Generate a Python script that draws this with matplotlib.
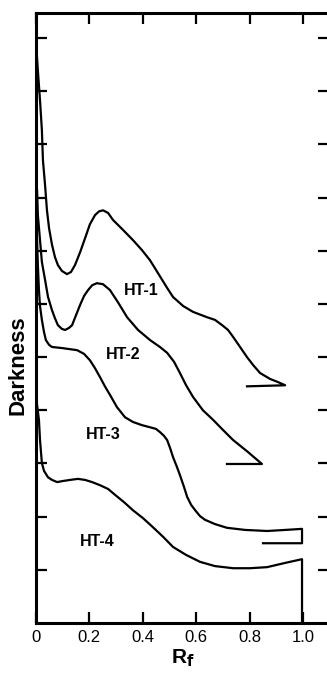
import matplotlib
matplotlib.use("Agg")
import matplotlib.pyplot as plt

plt.rcParams["font.family"] = ["Liberation Sans", "DejaVu Sans"]

# densitometer traces (Rf, darkness)
ht1_rf = [0.000, 0.007, 0.015, 0.022, 0.026, 0.034, 0.041, 0.049, 0.060, 0.071,
          0.082, 0.097, 0.116, 0.131, 0.146, 0.165, 0.184, 0.202, 0.221, 0.236,
          0.251, 0.270, 0.288, 0.326, 0.363, 0.397, 0.427, 0.464, 0.491, 0.513,
          0.551, 0.588, 0.640, 0.670, 0.697, 0.719, 0.738, 0.764, 0.790, 0.813,
          0.839, 0.876, 0.906, 0.933, 0.790]
ht1_dk = [10.92, 10.39, 9.83, 9.27, 8.70, 8.23, 7.76, 7.42, 7.11, 6.88,
          6.73, 6.62, 6.56, 6.60, 6.73, 6.97, 7.24, 7.50, 7.67, 7.74,
          7.76, 7.71, 7.58, 7.39, 7.20, 7.01, 6.82, 6.52, 6.30, 6.13,
          5.96, 5.85, 5.75, 5.70, 5.60, 5.51, 5.38, 5.19, 5.00, 4.85,
          4.70, 4.59, 4.53, 4.47, 4.45]

ht2_rf = [0.004, 0.007, 0.015, 0.022, 0.034, 0.045, 0.060, 0.071, 0.082, 0.097,
          0.109, 0.124, 0.135, 0.150, 0.165, 0.180, 0.195, 0.210, 0.228, 0.251,
          0.277, 0.307, 0.341, 0.382, 0.427, 0.464, 0.491, 0.517, 0.539, 0.562,
          0.588, 0.625, 0.663, 0.700, 0.738, 0.790, 0.846, 0.715]
ht2_dk = [8.14, 7.67, 7.20, 6.79, 6.45, 6.13, 5.88, 5.73, 5.60, 5.53,
          5.51, 5.55, 5.60, 5.79, 5.98, 6.15, 6.26, 6.35, 6.39, 6.37,
          6.26, 6.03, 5.75, 5.51, 5.32, 5.19, 5.08, 4.91, 4.70, 4.47,
          4.25, 4.00, 3.82, 3.63, 3.44, 3.23, 2.99, 2.99]

ht3_rf = [0.004, 0.007, 0.011, 0.015, 0.022, 0.030, 0.037, 0.049, 0.060, 0.097,
          0.154, 0.180, 0.202, 0.221, 0.240, 0.258, 0.277, 0.303, 0.333, 0.363,
          0.397, 0.427, 0.449, 0.464, 0.479, 0.491, 0.502, 0.513, 0.528, 0.539,
          0.554, 0.566, 0.581, 0.596, 0.614, 0.633, 0.670, 0.715, 0.783, 0.865,
          0.933, 0.996, 0.996, 0.850]
ht3_dk = [7.20, 6.73, 6.26, 5.96, 5.70, 5.47, 5.32, 5.23, 5.19, 5.17,
          5.13, 5.06, 4.94, 4.79, 4.62, 4.45, 4.29, 4.06, 3.87, 3.78,
          3.72, 3.68, 3.65, 3.59, 3.52, 3.44, 3.29, 3.12, 2.93, 2.78,
          2.56, 2.37, 2.22, 2.12, 2.01, 1.94, 1.86, 1.79, 1.75, 1.73,
          1.75, 1.77, 1.50, 1.50]

ht4_rf = [0.000, 0.004, 0.011, 0.015, 0.022, 0.030, 0.045, 0.060, 0.079, 0.101,
          0.127, 0.157, 0.184, 0.210, 0.240, 0.270, 0.296, 0.330, 0.363, 0.401,
          0.438, 0.476, 0.513, 0.562, 0.614, 0.670, 0.738, 0.801, 0.865, 0.933,
          0.996, 0.996]
ht4_dk = [4.38, 4.10, 3.82, 3.44, 3.01, 2.86, 2.74, 2.69, 2.65, 2.67,
          2.69, 2.71, 2.69, 2.65, 2.59, 2.52, 2.41, 2.27, 2.12, 1.97,
          1.80, 1.62, 1.43, 1.28, 1.15, 1.07, 1.03, 1.03, 1.05, 1.13,
          1.20, 0.00]

labels = ["HT-1", "HT-2", "HT-3", "HT-4"]
label_pos = [(0.395, 6.25), (0.325, 5.05), (0.25, 3.55), (0.23, 1.53)]

x_ticks = [0, 0.2, 0.4, 0.6, 0.8, 1.0]
x_tick_labels = ["0", "0.2", "0.4", "0.6", "0.8", "1.0"]
y_ticks = list(range(1, 12))

fig = plt.figure(figsize=(3.27, 6.79), dpi=100)
ax = fig.add_axes([36 / 327, 56 / 679, 293 / 327, 610 / 679])

for rf, dk in [(ht1_rf, ht1_dk), (ht2_rf, ht2_dk), (ht3_rf, ht3_dk), (ht4_rf, ht4_dk)]:
    ax.plot(rf, dk, color="black", lw=1.6, solid_joinstyle="round")

for text, (x, y) in zip(labels, label_pos):
    ax.text(x, y, text, fontsize=11.5, fontweight="bold", ha="center", va="center")

ax.set_xlim(0, 1.097)
ax.set_ylim(0, 11.47)
ax.set_xticks(x_ticks)
ax.set_xticklabels(x_tick_labels, fontsize=12)
ax.set_yticks(y_ticks)
ax.set_yticklabels([])
ax.tick_params(direction="in", length=8, width=1.6, top=True, right=True, pad=5)
for s in ax.spines.values():
    s.set_linewidth(2.2)

ax.set_xlabel(r"R$_\mathbf{f}$", fontsize=15, fontweight="bold", labelpad=2)
fig.text(18 / 327, 1 - 365 / 679, "Darkness", rotation=90, fontsize=16,
         fontweight="bold", ha="center", va="center")

fig.savefig("out.png", dpi=100)
